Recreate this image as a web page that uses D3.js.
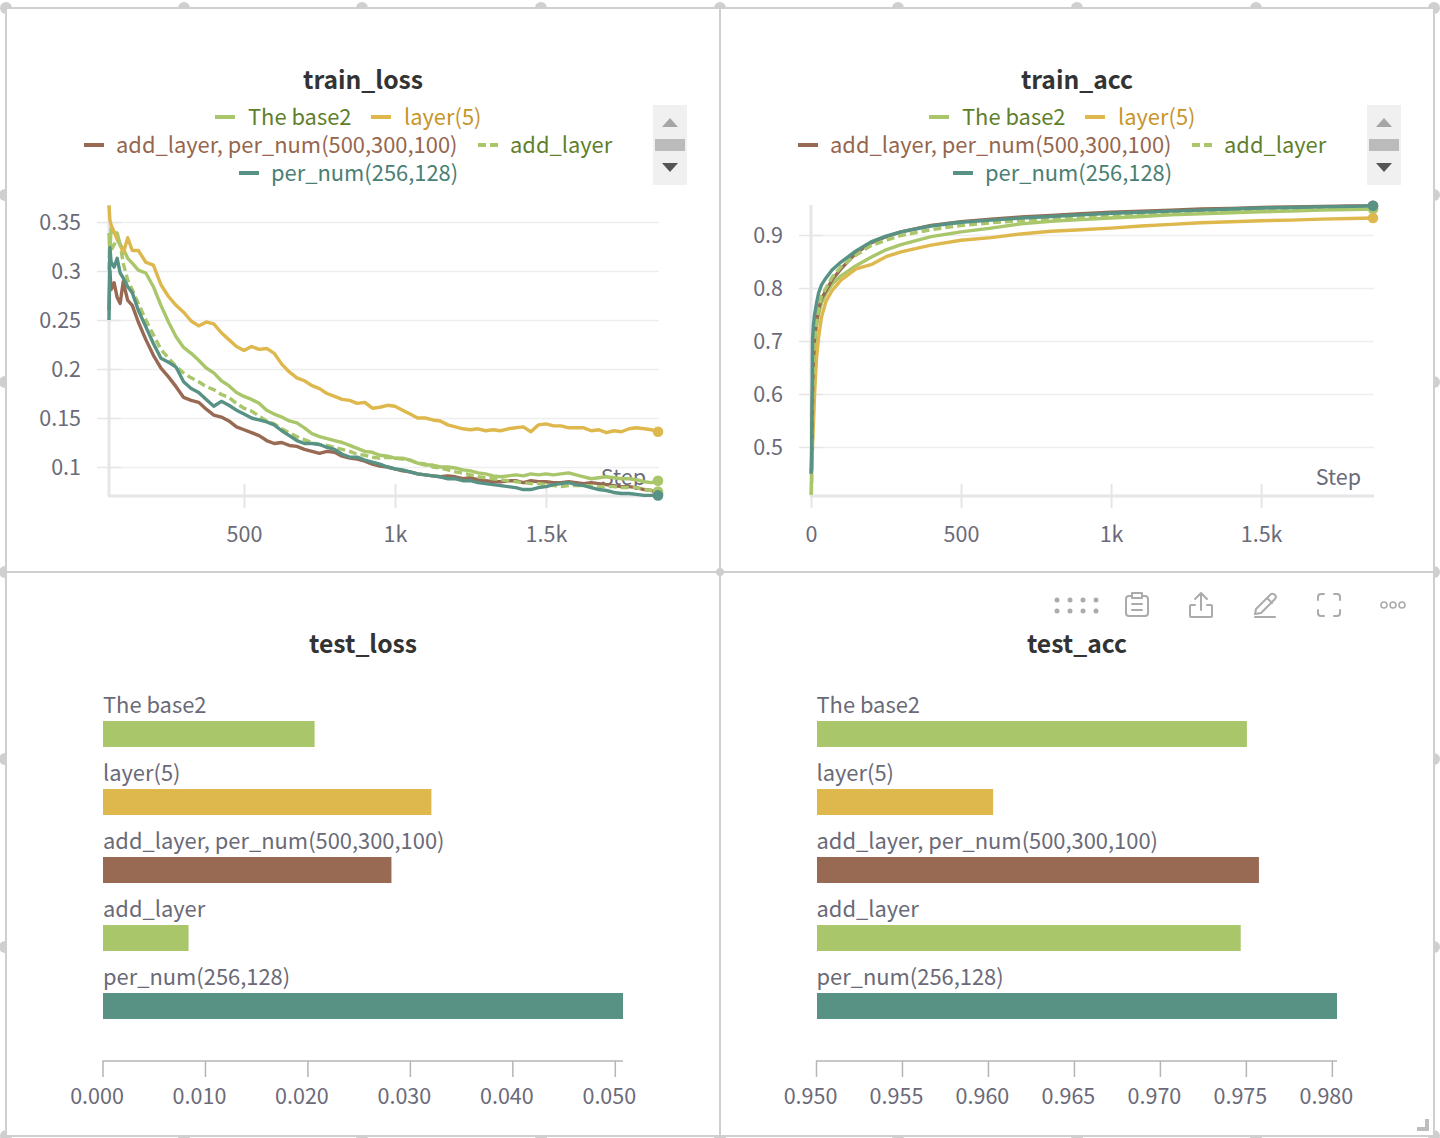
<!DOCTYPE html>
<html><head><meta charset="utf-8">
<script src="https://cdn.jsdelivr.net/npm/d3@7"></script>
<style>
html,body{margin:0;padding:0;background:#fff;overflow:hidden}
svg{display:block}
text{font-family:"Noto Sans CJK SC","Noto Sans",sans-serif}
</style></head><body><div id="chart"></div>
<script>
const seriesNames=["The base2","layer(5)","add_layer, per_num(500,300,100)","add_layer","per_num(256,128)"];
const seriesColors=["#a9c66a","#deb84c","#996a53","#a9c66a","#579284"];
const legendTextColors=["#5f7f2c","#c8962a","#96664e","#5f7f2c","#4a8074"];

const lossSteps=[53,56,60,70,80,90,100,115,130,150,175,200,225,250,275,300,
325,350,375,400,425,450,475,500,525,550,575,600,625,650,675,700,725,750,775,800,825,850,875,900,925,950,975,1000,
1025,1050,1075,1100,1125,1150,1175,1200,1225,1250,1275,1300,1325,1350,1375,1400,1425,1450,1475,1500,
1525,1550,1575,1600,1625,1650,1675,1700,1725,1750,1775,1800,1825,1850,1871];
const lossBase2=[.339,.320,.344,.339,.339,.327,.323,.313,.308,.301,.298,.284,.265,.248,.233,.222,
.216,.209,.201,.196,.188,.183,.176,.172,.169,.165,.158,.154,.151,.147,.145,.140,.134,.131,.129,.127,.125,.122,.119,.116,.115,.112,.111,.109,
.109,.107,.104,.102,.102,.100,.100,.099,.097,.096,.094,.093,.091,.090,.091,.092,.091,.093,.092,.093,
.092,.093,.094,.092,.090,.088,.089,.090,.089,.088,.088,.087,.085,.084,.086];
const lossLayer5=[.367,.352,.347,.340,.332,.327,.318,.334,.321,.321,.309,.306,.286,.274,.265,.258,
.249,.244,.248,.246,.237,.230,.223,.219,.223,.220,.221,.216,.205,.197,.191,.188,.183,.180,.175,.172,.169,.168,.165,.166,.160,.161,.163,.162,
.158,.154,.150,.150,.148,.147,.143,.141,.139,.138,.139,.137,.138,.137,.139,.140,.141,.136,.143,.144,
.142,.142,.140,.140,.140,.137,.138,.135,.137,.136,.139,.140,.139,.138,.136];
const lossPerNum500=[.260,.300,.281,.288,.273,.267,.289,.270,.265,.248,.230,.214,.201,.192,.182,.171,
.168,.166,.159,.153,.151,.147,.141,.138,.135,.132,.127,.124,.125,.122,.121,.118,.116,.114,.116,.115,.111,.109,.108,.106,.103,.101,.100,.098,
.096,.095,.093,.092,.091,.090,.091,.090,.088,.089,.087,.086,.085,.085,.086,.086,.084,.086,.085,.085,
.084,.084,.085,.084,.083,.084,.083,.082,.081,.080,.080,.079,.077,.076,.073];
const lossAddLayer=[.301,.335,.321,.327,.332,.327,.308,.291,.281,.267,.250,.235,.220,.211,.203,.196,
.191,.187,.182,.179,.174,.171,.165,.160,.157,.152,.147,.144,.139,.135,.131,.128,.125,.123,.122,.120,.118,.116,.113,.112,.110,.109,.110,.109,
.108,.107,.104,.103,.100,.099,.097,.095,.094,.092,.090,.089,.088,.087,.086,.085,.084,.083,.083,.082,
.081,.080,.081,.081,.081,.081,.080,.080,.080,.079,.079,.079,.077,.076,.075];
const lossPerNum256=[.250,.324,.309,.304,.313,.298,.293,.284,.278,.260,.243,.226,.211,.207,.202,.187,
.180,.176,.169,.162,.167,.163,.158,.154,.150,.148,.146,.143,.137,.132,.127,.124,.124,.123,.120,.118,.113,.110,.110,.107,.105,.103,.100,.098,
.097,.095,.093,.092,.091,.090,.088,.088,.086,.086,.084,.083,.082,.081,.080,.079,.077,.077,.079,.080,
.082,.083,.084,.082,.081,.079,.077,.076,.074,.073,.073,.072,.071,.071,.071];

const accSteps=[1,3,5,8,12,18,25,35,50,70,100,150,200,250,300,400,500,600,700,800,900,1000,1100,1200,1300,1400,1500,1600,1700,1800,1873];
const accBase2=[.41,.50,.58,.64,.68,.725,.75,.772,.79,.807,.823,.842,.858,.872,.882,.897,.906,.913,.921,.926,.929,.932,.935,.938,.940,.942,.944,.945,.947,.948,.949];
const accLayer5=[.45,.47,.50,.54,.60,.665,.705,.745,.775,.795,.815,.836,.844,.859,.868,.881,.890,.895,.902,.907,.910,.913,.917,.920,.923,.925,.927,.928,.930,.931,.932];
const accPerNum500=[.45,.50,.60,.66,.71,.735,.76,.78,.795,.815,.836,.866,.885,.897,.906,.918,.925,.930,.934,.937,.940,.943,.945,.947,.949,.950,.952,.953,.954,.955,.955];
const accAddLayer=[.41,.45,.58,.65,.70,.735,.76,.785,.80,.82,.84,.862,.88,.89,.899,.91,.918,.923,.927,.931,.934,.936,.939,.941,.943,.945,.946,.948,.949,.950,.951];
const accPerNum256=[.45,.532,.70,.73,.75,.77,.79,.806,.819,.834,.849,.870,.887,.898,.906,.917,.924,.928,.932,.935,.938,.941,.943,.945,.947,.949,.951,.952,.953,.954,.955];

const testLoss=[.0207,.0321,.0282,.0084,.0508];
const testAcc=[.97506,.9603,.97576,.9747,.9803];

const lossYTicks=[.1,.15,.2,.25,.3,.35];
const lossYLabels=["0.1","0.15","0.2","0.25","0.3","0.35"];
const lossXTicks=[500,1000,1500];
const lossXLabels=["500","1k","1.5k"];
const accYTicks=[.5,.6,.7,.8,.9];
const accYLabels=["0.5","0.6","0.7","0.8","0.9"];
const accXTicks=[0,500,1000,1500];
const accXLabels=["0","500","1k","1.5k"];
const testLossTicks=[0,.01,.02,.03,.04,.05];
const testLossLabels=["0.000","0.010","0.020","0.030","0.040","0.050"];
const testAccTicks=[.95,.955,.96,.965,.97,.975,.98];
const testAccLabels=["0.950","0.955","0.960","0.965","0.970","0.975","0.980"];

const GREY="#6a6a78", BORDER="#cfcfcf", AXIS="#e6e6e9", GRID="#eeeeef";
const svg=d3.select("#chart").append("svg").attr("width",1440).attr("height",1138);

// ---- dashboard frame
const handleX=[6,184,362,541,720,898,1077,1256,1434], handleY=[195,382,572,759,947];
const frame=svg.append("g");
handleX.forEach(x=>{frame.append("circle").attr("cx",x).attr("cy",8).attr("r",6).attr("fill","#cfcfcf");
  frame.append("circle").attr("cx",x).attr("cy",1136).attr("r",6).attr("fill","#cfcfcf");});
handleY.forEach(y=>{frame.append("circle").attr("cx",5).attr("cy",y).attr("r",6).attr("fill","#cfcfcf");
  frame.append("circle").attr("cx",1434).attr("cy",y).attr("r",6).attr("fill","#cfcfcf");});
frame.append("rect").attr("x",6).attr("y",9).attr("width",1427).attr("height",1126).attr("fill","#fff");
[[6,8,1434,8],[6,572,1434,572],[6,1136,1434,1136],[6,8,6,1136],[720,8,720,1136],[1434,8,1434,1136]].forEach(l=>
  frame.append("line").attr("x1",l[0]).attr("y1",l[1]).attr("x2",l[2]).attr("y2",l[3]).attr("stroke",BORDER).attr("stroke-width",2));
frame.append("circle").attr("cx",720).attr("cy",572).attr("r",4).attr("fill","#cfcfcf");
frame.append("path").attr("d","M1417 1127H1425V1119H1429V1131H1417Z").attr("fill","#bdbdbd");

function title(cx,y,t){svg.append("text").attr("x",cx).attr("y",y).attr("text-anchor","middle")
  .attr("font-size",24.7).attr("font-weight",600).attr("fill","#333").text(t);}

function legend(dx){
  const items=[[0,215,248,117],[1,371,404,117],[2,84,116,145],[3,478,510,145],[4,239,271,173]];
  items.forEach(([i,sx,tx,y])=>{
    const ln=svg.append("line").attr("x1",sx+dx).attr("x2",sx+dx+20).attr("y1",y).attr("y2",y)
      .attr("stroke",seriesColors[i]).attr("stroke-width",4);
    if(i===3) ln.attr("stroke-dasharray","8,4");
    svg.append("text").attr("x",tx+dx).attr("y",y+7.5).attr("font-size",21.9).attr("fill",legendTextColors[i]).text(seriesNames[i]);
  });
  const g=svg.append("g").attr("transform",`translate(${dx},0)`);
  g.append("rect").attr("x",653).attr("y",105).attr("width",34).attr("height",80).attr("fill","#f0f0f0");
  g.append("path").attr("d","M662 127L670 118L678 127Z").attr("fill","#a6a6a6");
  g.append("rect").attr("x",655).attr("y",139).attr("width",30).attr("height",12).attr("fill","#bbbbbb");
  g.append("path").attr("d","M662 163L678 163L670 172Z").attr("fill","#555");
}

function linePanel(o){
  const x=d3.scaleLinear().domain(o.xDomain).range(o.xRange);
  const y=d3.scaleLinear().domain(o.yDomain).range([496,205]);
  const left=o.xRange[0], right=o.xRange[1], W=right-left;
  svg.append("g").attr("transform",`translate(${left},0)`)
    .call(d3.axisLeft(y).tickValues(o.yTicks).tickSize(-(W+1)).tickFormat(""))
    .call(g=>g.select(".domain").remove())
    .call(g=>g.selectAll("line").attr("stroke",GRID).attr("stroke-width",1.5));
  svg.append("g").attr("transform",`translate(${left},0)`)
    .call(d3.axisLeft(y).tickValues(o.yTicks).tickSize(12).tickPadding(16).tickFormat((d,i)=>o.yLabels[i]))
    .call(g=>g.select(".domain").attr("stroke",AXIS).attr("stroke-width",3).attr("d",`M0,496V205`))
    .call(g=>g.selectAll("line").attr("stroke",AXIS).attr("stroke-width",1.5).attr("x1",12).attr("x2",-12))
    .call(g=>g.selectAll("text").attr("font-size",21.5).attr("fill",GREY).attr("transform","translate(0,1)").attr("font-family",'"Noto Sans CJK SC"'));
  svg.append("g").attr("transform","translate(0,496)")
    .call(d3.axisBottom(x).tickValues(o.xTicks).tickSize(12).tickPadding(19).tickFormat((d,i)=>o.xLabels[i]))
    .call(g=>g.select(".domain").attr("stroke",AXIS).attr("stroke-width",3).attr("d",`M${left-1},0H${right+1}`))
    .call(g=>g.selectAll("line").attr("stroke",AXIS).attr("stroke-width",2).attr("y1",-12).attr("y2",12))
    .call(g=>g.selectAll("text").attr("font-size",21.5).attr("fill",GREY).attr("font-family",'"Noto Sans CJK SC"'));
  svg.append("text").attr("x",right-12).attr("y",485).attr("text-anchor","end").attr("font-size",21.5).attr("fill",GREY).text("Step");
  const line=d3.line().x(d=>x(d[0])).y(d=>y(d[1])).curve(d3.curveLinear);
  o.series.forEach((vals,i)=>{
    const pts=d3.zip(o.steps,vals);
    const p=svg.append("path").attr("d",line(pts)).attr("fill","none").attr("stroke",seriesColors[i])
      .attr("stroke-width",3.4).attr("stroke-linejoin","round");
    if(i===3) p.attr("stroke-dasharray","8,4");
  });
  o.series.forEach((vals,i)=>{
    const last=vals.length-1;
    svg.append("circle").attr("cx",x(o.steps[last])).attr("cy",y(vals[last])).attr("r",5.3).attr("fill",seriesColors[i]);
  });
}

function barPanel(o){
  const x=d3.scaleLinear().domain(o.domain).range(o.range);
  const rowY=d3.scaleBand().domain(seriesNames).range([687,1027]).paddingInner(0).paddingOuter(0);
  seriesNames.forEach((n,i)=>{
    const top=rowY(n)+34;
    const x0=Math.ceil(x(o.domain[0]));
    svg.append("rect").attr("x",x0+o.inset).attr("y",top).attr("width",x(o.values[i])-x0-o.inset).attr("height",26).attr("fill",seriesColors[i]);
    svg.append("text").attr("x",o.range[0]+.5).attr("y",top-8.5).attr("font-size",21.9).attr("fill",GREY).text(n);
  });
  svg.append("g").attr("transform","translate(0,1061)")
    .call(d3.axisBottom(x).tickValues(o.ticks).tickSize(16).tickPadding(12).tickFormat((d,i)=>o.labels[i]))
    .call(g=>g.select(".domain").attr("stroke","#b5b5b5").attr("stroke-width",1.5).attr("d",`M${o.range[0]},0H${o.range[1]}`))
    .call(g=>g.selectAll("line").attr("stroke","#b5b5b5").attr("stroke-width",1.5))
    .call(g=>g.selectAll("text").attr("font-size",21.5).attr("fill",GREY).attr("dx",-6).attr("font-family",'"Noto Sans CJK SC"'));
}

title(363,89,"train_loss"); legend(0);
linePanel({xDomain:[53,1871],xRange:[109,658],yDomain:[.0704,.3674],steps:lossSteps,
  series:[lossBase2,lossLayer5,lossPerNum500,lossAddLayer,lossPerNum256],
  yTicks:lossYTicks,yLabels:lossYLabels,xTicks:lossXTicks,xLabels:lossXLabels});
title(1077,89,"train_acc"); legend(714);
linePanel({xDomain:[0,1873],xRange:[811,1373],yDomain:[.4075,.9566],steps:accSteps,
  series:[accBase2,accLayer5,accPerNum500,accAddLayer,accPerNum256],
  yTicks:accYTicks,yLabels:accYLabels,xTicks:accXTicks,xLabels:accXLabels});
title(363,653,"test_loss");
barPanel({domain:[0,.0508],range:[102.5,623],inset:0,values:testLoss,ticks:testLossTicks,labels:testLossLabels});
title(1077,653,"test_acc");
barPanel({domain:[.95,.9803],range:[816,1337],inset:1,values:testAcc,ticks:testAccTicks,labels:testAccLabels});

// ---- panel toolbar
const ic=svg.append("g").attr("fill","none").attr("stroke","#ababab").attr("stroke-width",2).attr("stroke-linecap","round").attr("stroke-linejoin","round");
[1057,1070,1083,1096].forEach(px=>[600,611].forEach(py=>ic.append("circle").attr("cx",px).attr("cy",py).attr("r",2.5).attr("fill","#ababab").attr("stroke","none")));
ic.append("path").attr("d","M1132 596h-3a3 3 0 0 0-3 3v14a3 3 0 0 0 3 3h16a3 3 0 0 0 3-3v-14a3 3 0 0 0-3-3h-3M1132 593h10v5h-10zM1132 604h10M1132 610h10");
ic.append("path").attr("d","M1195 605h-4a1 1 0 0 0-1 1v10a1 1 0 0 0 1 1h20a1 1 0 0 0 1-1v-10a1 1 0 0 0-1-1h-4M1201 610v-17M1195 599l6-6l6 6");
ic.append("path").attr("d","M1256 609l14-14a3 3 0 0 1 5 0a3 3 0 0 1 0 4l-14 14l-6 1zM1267 598l5 5M1255 617h20");
ic.append("path").attr("d","M1318 600v-3a3 3 0 0 1 3-3h3M1334 594h3a3 3 0 0 1 3 3v3M1340 610v3a3 3 0 0 1-3 3h-3M1324 616h-3a3 3 0 0 1-3-3v-3");
[1384,1393,1402].forEach(px=>ic.append("circle").attr("cx",px).attr("cy",605).attr("r",3).attr("stroke-width",1.6));
</script></body></html>
